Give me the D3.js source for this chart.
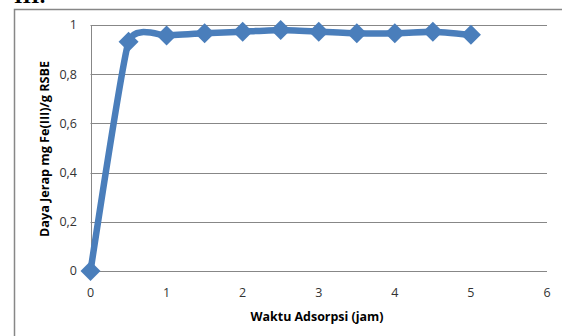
<!DOCTYPE html>
<html>
<head>
<meta charset="utf-8">
<script src="https://cdn.jsdelivr.net/npm/d3@7"></script>
<style>
  html, body { margin: 0; padding: 0; background: #fff; }
  svg { display: block; }
</style>
</head>
<body>
<svg id="chart" width="562" height="336"></svg>
<script>
// Adsorption time (hours) and Fe(III) uptake per gram of RSBE
const waktu = [0, 0.5, 1, 1.5, 2, 2.5, 3, 3.5, 4, 4.5, 5];
const dayaJerap = [0, 0.932, 0.957, 0.966, 0.973, 0.98, 0.973, 0.966, 0.966, 0.973, 0.96];
const xTicks = [0, 1, 2, 3, 4, 5, 6];
const yTicks = [0, 0.2, 0.4, 0.6, 0.8, 1];
const xTitle = "Waktu Adsorpsi (jam)";
const yTitle = "Daya Jerap mg Fe(III)/g RSBE";

const svg = d3.select("#chart");
const font = "'Open Sans', 'Liberation Sans', sans-serif";
const blue = "#4a7ebb";
const grid = "#878787";

// Section heading above the chart frame
svg.append("text")
  .attr("x", 14).attr("y", 3)
  .attr("font-family", "'Liberation Serif', serif")
  .attr("font-weight", "bold")
  .attr("font-size", 22)
  .attr("fill", "#000")
  .text("III.");

// Chart frame
svg.append("rect")
  .attr("x", 14.5).attr("y", 9.5)
  .attr("width", 560).attr("height", 340)
  .attr("fill", "none")
  .attr("stroke", grid)
  .attr("stroke-width", 1.5);

const x = d3.scaleLinear().domain([0, 6]).range([90.5, 547]);
const y = d3.scaleLinear().domain([0, 1]).range([271, 25]);

// Horizontal gridlines
svg.append("g").selectAll("line")
  .data(yTicks)
  .join("line")
  .attr("x1", x(0)).attr("x2", x(6))
  .attr("y1", d => Math.round(y(d)) + 0.5)
  .attr("y2", d => Math.round(y(d)) + 0.5)
  .attr("stroke", grid)
  .attr("stroke-width", 1);

// Vertical axis line
svg.append("line")
  .attr("x1", Math.round(x(0)) + 0.5).attr("x2", Math.round(x(0)) + 0.5)
  .attr("y1", y(1)).attr("y2", y(0))
  .attr("stroke", grid);

const fmt = d => d3.format(".1f")(d).replace(".", ",");

// Y tick labels
svg.append("g").selectAll("text")
  .data(yTicks)
  .join("text")
  .attr("x", 77)
  .attr("y", d => y(d))
  .attr("dy", "0.35em")
  .attr("text-anchor", "end")
  .attr("font-family", font)
  .attr("font-size", 12.5)
  .attr("fill", "#333")
  .text(d => d === 0 ? "0" : d === 1 ? "1" : fmt(d));

// X tick labels
svg.append("g").selectAll("text")
  .data(xTicks)
  .join("text")
  .attr("x", d => x(d))
  .attr("y", 293)
  .attr("dy", "0.35em")
  .attr("text-anchor", "middle")
  .attr("font-family", font)
  .attr("font-size", 12.5)
  .attr("fill", "#333")
  .text(d => d);

// Axis titles
svg.append("text")
  .attr("x", 317).attr("y", 321)
  .attr("text-anchor", "middle")
  .attr("font-family", font)
  .attr("font-weight", "bold")
  .attr("font-size", 12)
  .attr("fill", "#000")
  .attr("textLength", 133)
  .attr("lengthAdjust", "spacingAndGlyphs")
  .text(xTitle);

svg.append("text")
  .attr("transform", "translate(49,149) rotate(-90)")
  .attr("text-anchor", "middle")
  .attr("font-family", font)
  .attr("font-weight", "bold")
  .attr("font-size", 12)
  .attr("fill", "#000")
  .attr("textLength", 176)
  .attr("lengthAdjust", "spacingAndGlyphs")
  .text(yTitle);

const pts = waktu.map((w, i) => [w, dayaJerap[i]]);

// Smoothed series line
const line = d3.line()
  .x(d => x(d[0]))
  .y(d => y(d[1]))
  .curve(d3.curveCardinal.tension(0.55));

svg.append("path")
  .datum(pts)
  .attr("d", line)
  .attr("fill", "none")
  .attr("stroke", blue)
  .attr("stroke-width", 6.5)
  .attr("stroke-linejoin", "round");

// Diamond markers
svg.append("g").selectAll("path")
  .data(pts)
  .join("path")
  .attr("transform", d => `translate(${x(d[0])},${y(d[1])})`)
  .attr("d", "M0,-10L10,0L0,10L-10,0Z")
  .attr("fill", blue);
</script>
</body>
</html>
